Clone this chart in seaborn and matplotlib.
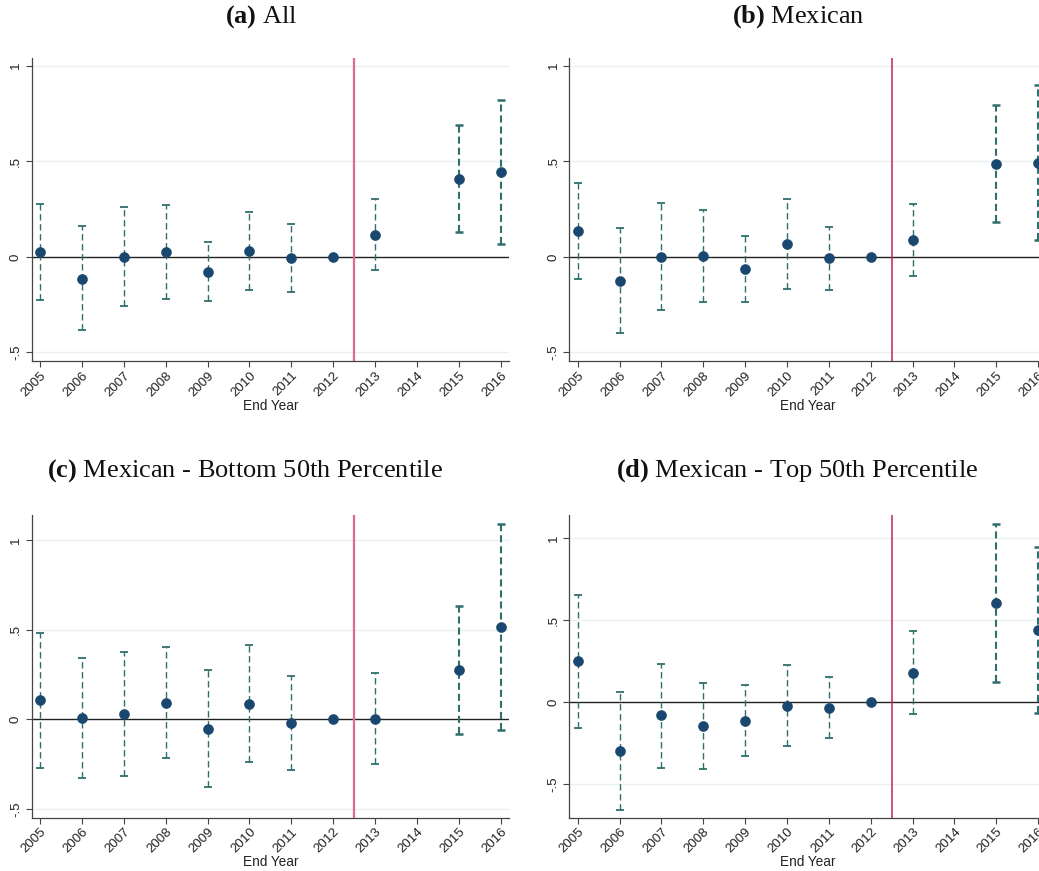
import numpy as np
import pandas as pd
import matplotlib
matplotlib.use("Agg")
import matplotlib.pyplot as plt
import seaborn as sns

# End years in each event-study sample (2014 has no estimate)
years = [2005, 2006, 2007, 2008, 2009, 2010, 2011, 2012, 2013, 2015, 2016]
tick_years = list(range(2005, 2017))

# (a) All
coef_all = [0.024, -0.114, 0.000, 0.024, -0.077, 0.033, -0.007, 0.0, 0.115, 0.409, 0.442]
hi_all = [0.274, 0.159, 0.259, 0.269, 0.079, 0.236, 0.171, 0.0, 0.302, 0.692, 0.818]
lo_all = [-0.224, -0.383, -0.257, -0.219, -0.233, -0.171, -0.182, 0.0, -0.068, 0.129, 0.068]

# (b) Mexican
coef_mex = [0.135, -0.124, 0.000, 0.005, -0.065, 0.066, -0.007, 0.0, 0.089, 0.486, 0.491]
hi_mex = [0.388, 0.149, 0.283, 0.247, 0.107, 0.302, 0.157, 0.0, 0.278, 0.792, 0.899]
lo_mex = [-0.117, -0.399, -0.280, -0.236, -0.238, -0.166, -0.171, 0.0, -0.098, 0.180, 0.087]

# (c) Mexican - bottom 50th percentile
coef_bot = [0.106, 0.006, 0.028, 0.093, -0.052, 0.087, -0.022, 0.0, 0.002, 0.275, 0.517]
hi_bot = [0.483, 0.342, 0.374, 0.403, 0.273, 0.413, 0.240, 0.0, 0.257, 0.632, 1.091]
lo_bot = [-0.270, -0.329, -0.314, -0.214, -0.375, -0.238, -0.284, 0.0, -0.251, -0.082, -0.061]

# (d) Mexican - top 50th percentile
coef_top = [0.248, -0.297, -0.081, -0.148, -0.114, -0.022, -0.039, 0.0, 0.179, 0.606, 0.437]
hi_top = [0.654, 0.061, 0.234, 0.118, 0.106, 0.228, 0.150, 0.0, 0.433, 1.087, 0.945]
lo_top = [-0.159, -0.657, -0.400, -0.411, -0.327, -0.268, -0.222, 0.0, -0.075, 0.122, -0.065]

panels = [
    ("(a)", "All", coef_all, hi_all, lo_all, (-0.545, 1.04)),
    ("(b)", "Mexican", coef_mex, hi_mex, lo_mex, (-0.545, 1.04)),
    ("(c)", "Mexican - Bottom 50th Percentile", coef_bot, hi_bot, lo_bot, (-0.549, 1.14)),
    ("(d)", "Mexican - Top 50th Percentile", coef_top, hi_top, lo_top, (-0.705, 1.14)),
]

sns.set_theme(style="white")
plt.rcParams["font.family"] = ["Liberation Sans", "DejaVu Sans"]
plt.rcParams["mathtext.fontset"] = "custom"
plt.rcParams["mathtext.bf"] = "Liberation Serif:bold"
plt.rcParams["mathtext.rm"] = "Liberation Serif"

W, H = 1039, 871
fig = plt.figure(figsize=(W / 100, H / 100), dpi=100)
fig.patch.set_facecolor("white")

# axes boxes in pixels: left, top, right, bottom
boxes = [
    (31.7, 58, 509, 361),
    (569.3, 58, 1046.6, 361),
    (31.7, 515, 509, 817.7),
    (569.3, 515, 1046.6, 817.7),
]
title_pos = [(261, 17), (798, 17), (245, 471), (797, 471)]
vline_colors = ["#dc6b8c", "#c8244e", "#dc6b8c", "#c8244e"]
vline_widths = [1.6, 1.1, 1.6, 1.1]

navy = "#1a476f"
teal = "#2f6f6c"

for i, (tag, name, coef, hi, lo, ylim) in enumerate(panels):
    l, t, r, b = boxes[i]
    ax = fig.add_axes([l / W, (H - b) / H, (r - l) / W, (b - t) / H])
    df = pd.DataFrame({"year": years, "coef": coef, "hi": hi, "lo": lo})

    ax.set_xlim(2004.8, 2016.2)
    ax.set_ylim(*ylim)

    for yv in [-0.5, 0.5, 1.0]:
        ax.axhline(yv, color="#e9f1f2", lw=1.0, zorder=0)
    ax.axhline(0, color="#222222", lw=1.0, zorder=1)
    ax.axvline(2012.5, color=vline_colors[i], lw=vline_widths[i], zorder=1)

    # confidence intervals (2012 is the omitted reference year)
    ci = df[df["year"] != 2012]
    for _, row in ci.iterrows():
        wide = row["year"] >= 2015
        lw = 1.5 if wide else 1.0
        eb = ax.errorbar(row["year"], row["coef"],
                         yerr=[[row["coef"] - row["lo"]], [row["hi"] - row["coef"]]],
                         fmt="none", ecolor=teal, elinewidth=lw, capsize=3.2,
                         capthick=lw + 0.3, zorder=2)
        eb[2][0].set_linestyle((0, (4.6, 2.6)) if not wide else (0, (3.4, 1.9)))

    sns.scatterplot(data=df, x="year", y="coef", ax=ax, color=navy, s=52,
                    edgecolor=navy, linewidth=0.4, zorder=3, legend=False)

    ax.set_xticks(tick_years)
    ax.set_xticklabels([str(y) for y in tick_years], rotation=45, ha="right",
                       rotation_mode="anchor", fontsize=9.5, color="#222222")
    ax.set_yticks([-0.5, 0, 0.5, 1])
    ax.set_yticklabels(["-.5", "0", ".5", "1"], rotation=90, va="center",
                       fontsize=9.5, color="#222222")
    ax.tick_params(axis="x", direction="out", length=4, width=0.8,
                   color="#444444", pad=2, bottom=True)
    ax.tick_params(axis="y", direction="out", length=4, width=0.8,
                   color="#444444", pad=3, left=True)
    ax.set_xlabel("End Year", fontsize=9.8, color="#222222", labelpad=0)
    ax.set_ylabel("")
    for side in ["top", "right"]:
        ax.spines[side].set_visible(False)
    for side in ["left", "bottom"]:
        ax.spines[side].set_color("#444444")
        ax.spines[side].set_linewidth(0.9)
    ax.set_facecolor("white")

    tx, ty = title_pos[i]
    fig.text(tx / W, 1 - ty / H, r"$\mathbf{" + tag + r"}$ " + name,
             ha="center", va="center", fontsize=19,
             family=["Liberation Serif", "DejaVu Serif"], color="#111111")

fig.savefig("out.png", dpi=100, facecolor="white")
